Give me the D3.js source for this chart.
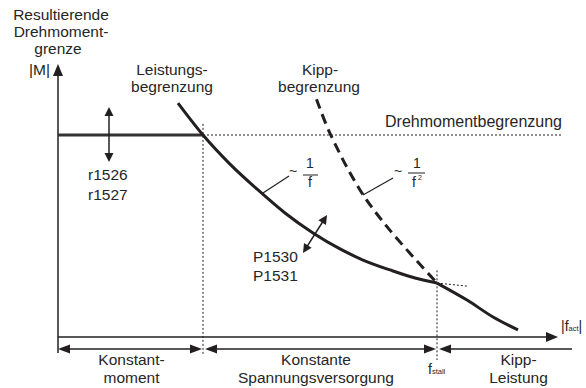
<!DOCTYPE html>
<html>
<head>
<meta charset="utf-8">
<script src="https://cdn.jsdelivr.net/npm/d3@7"></script>
<style>
  html, body { margin: 0; padding: 0; background: #fff; }
  svg text { font-family: "Liberation Sans", Arial, Helvetica, sans-serif; fill: #262626; }
</style>
</head>
<body>
<svg id="chart" width="586" height="388"></svg>
<script>
// Relative frequency f (0..100) and relative torque limit M (100 = torque limit)
const powerF = [24, 29, 34.4, 40, 45.4, 51, 56.4, 61, 66.4, 71.4, 75.8];   // power limit ~ 1/f
const powerM = [115.8, 100, 85.6, 72.8, 61.4, 51.5, 43.6, 38.1, 33.2, 29.2, 26.7];
const powerTailF = [75.8, 81.8];                          // power limit beyond stall point
const powerTailM = [26.7, 25.2];
const stallF = [51.7, 54.4, 60.4, 66, 75.8];              // stall limit ~ 1/f^2 (dashed part)
const stallM = [117.7, 100.8, 72.8, 54, 26.7];
const kippF = [75.8, 81.8, 87, 92];                       // stall limit, active part
const kippM = [26.7, 18.3, 9.9, 3.5];
const torqueLimit = 100;
const fCorner = 29;      // end of constant torque range
const fStall = 75.8;     // f_stall
const fEnd = 102.8;      // end of stall power range
const rangeLabels = [["Konstant-", "moment"], ["Konstante", "Spannungsversorgung"], ["Kipp-", "Leistung"]];

const svg = d3.select("#chart");
const ink = "#231f20";

const x = d3.scaleLinear().domain([0, 100]).range([58, 558]);
const y = d3.scaleLinear().domain([0, 100]).range([337, 135]);

const line = d3.line().x(d => x(d[0])).y(d => y(d[1])).curve(d3.curveMonotoneX);
const zip = (a, b) => a.map((v, i) => [v, b[i]]);

// filled triangular arrow head with its tip at (tx,ty), pointing away from (fx,fy)
function head(g, fx, fy, tx, ty, len, wid) {
  const dx = tx - fx, dy = ty - fy, n = Math.hypot(dx, dy);
  const ux = dx / n, uy = dy / n;
  const bx = tx - ux * len, by = ty - uy * len;
  const px = -uy * wid / 2, py = ux * wid / 2;
  g.append("path")
    .attr("d", `M${tx},${ty}L${bx + px},${by + py}L${bx - px},${by - py}Z`)
    .attr("fill", ink);
}
function arrow(g, x1, y1, x2, y2, opts) {
  const o = Object.assign({ w: 1.3, len: 9, wid: 8, start: false, end: true }, opts);
  const dx = x2 - x1, dy = y2 - y1, n = Math.hypot(dx, dy);
  const ux = dx / n, uy = dy / n;
  const sx = o.start ? x1 + ux * (o.len - 1) : x1, sy = o.start ? y1 + uy * (o.len - 1) : y1;
  const ex = o.end ? x2 - ux * (o.len - 1) : x2, ey = o.end ? y2 - uy * (o.len - 1) : y2;
  g.append("line").attr("x1", sx).attr("y1", sy).attr("x2", ex).attr("y2", ey)
    .attr("stroke", ink).attr("stroke-width", o.w);
  if (o.end) head(g, x1, y1, x2, y2, o.len, o.wid);
  if (o.start) head(g, x2, y2, x1, y1, o.len, o.wid);
}

const g = svg.append("g");

// axes
arrow(g, x(0), y(-7.9), x(0), 64, { w: 1.5, len: 12, wid: 10 });
arrow(g, x(0), y(0), x(100), y(0), { w: 1.5, len: 12, wid: 10 });

// dotted guides
const dotted = (x1, y1, x2, y2) => g.append("line")
  .attr("x1", x1).attr("y1", y1).attr("x2", x2).attr("y2", y2)
  .attr("stroke", ink).attr("stroke-width", 1).attr("stroke-dasharray", "2,2");
dotted(x(fCorner), y(torqueLimit), 563, y(torqueLimit));
dotted(x(fCorner), y(105.5), x(fCorner), y(-8.9));
dotted(x(fStall), y(33), x(fStall), y(-11.4));

// torque limit (solid in constant torque range)
g.append("line").attr("x1", x(0)).attr("y1", y(torqueLimit)).attr("x2", x(fCorner)).attr("y2", y(torqueLimit))
  .attr("stroke", "#333").attr("stroke-width", 3);

// power limit ~1/f
g.append("path").datum(zip(powerF, powerM)).attr("d", line)
  .attr("fill", "none").attr("stroke", ink).attr("stroke-width", 3);
g.append("path").datum(zip(powerTailF, powerTailM)).attr("d", line)
  .attr("fill", "none").attr("stroke", ink).attr("stroke-width", 1).attr("stroke-dasharray", "2,2");

// stall limit ~1/f^2
g.append("path").datum(zip(stallF, stallM)).attr("d", line.curve(d3.curveCatmullRom.alpha(0.5)))
  .attr("fill", "none").attr("stroke", ink).attr("stroke-width", 3).attr("stroke-dasharray", "10,6");
g.append("path").datum(zip(kippF, kippM)).attr("d", line)
  .attr("fill", "none").attr("stroke", ink).attr("stroke-width", 3);

// range arrows below the frequency axis
const yr = 349;
arrow(g, x(0), yr, x(fCorner) - 1, yr, { start: true, end: true, len: 12, wid: 9, w: 1.5 });
arrow(g, x(fCorner) + 2, yr, x(fStall) - 1, yr, { start: true, end: true, len: 12, wid: 9, w: 1.5 });
arrow(g, x(fStall) + 2, yr, x(fEnd), yr, { start: true, end: false, len: 12, wid: 9, w: 1.5 });

// adjustment arrows
arrow(g, x(10.2), y(113.9), x(10.2), y(86.6), { start: true, end: true, len: 9, wid: 9, w: 1.5 });
arrow(g, x(49), y(41.6), x(53.8), y(60.4), { start: true, end: true, len: 9, wid: 9, w: 1.5 });

// leader lines to the curve laws
const leader = (x1, y1, x2, y2) => g.append("line").attr("x1", x1).attr("y1", y1).attr("x2", x2).attr("y2", y2)
  .attr("stroke", ink).attr("stroke-width", 1.2);
leader(263, 193, 289, 176);
leader(363, 195, 393, 178);

// texts
const fs = 15.5;
const txt = (s, tx, ty, anchor, size) => g.append("text").attr("x", tx).attr("y", ty)
  .attr("text-anchor", anchor || "start").attr("font-size", size || fs).text(s);

txt("Resultierende", 61, 20, "middle");
txt("Drehmoment-", 61, 37, "middle");
txt("grenze", 58, 54, "middle");
txt("|M|", 29, 75);

txt("Leistungs-", 172, 75, "middle");
txt("begrenzung", 172, 92, "middle");
txt("Kipp-", 320, 75, "middle");
txt("begrenzung", 319, 92, "middle");
txt("Drehmomentbegrenzung", 562, 127, "end", 16);

txt("r1526", 88, 180);
txt("r1527", 88, 200);
txt("P1530", 253, 262);
txt("P1531", 253, 281);

// ~ 1/f
txt("~", 289, 176, "start", 14);
txt("1", 310, 168, "middle", 14);
g.append("line").attr("x1", 303).attr("x2", 318).attr("y1", 175).attr("y2", 175).attr("stroke", ink).attr("stroke-width", 1);
txt("f", 310, 187, "middle", 14);
// ~ 1/f^2
txt("~", 394, 176, "start", 14);
txt("1", 417, 168, "middle", 14);
g.append("line").attr("x1", 408).attr("x2", 425).attr("y1", 173).attr("y2", 173).attr("stroke", ink).attr("stroke-width", 1);
txt("f", 414, 187, "middle", 14);
txt("2", 418, 180, "start", 7);

// range labels
const centers = [(x(0) + x(fCorner)) / 2 + 1, (x(fCorner) + x(fStall)) / 2 - 4, (x(fStall) + x(fEnd)) / 2 + 14];
rangeLabels.forEach((ls, i) => {
  txt(ls[0], centers[i], 365, "middle");
  txt(ls[1], centers[i], 383, "middle");
});

// f_stall
const fsT = g.append("text").attr("x", x(fStall) - 9).attr("y", 374).attr("font-size", 14);
fsT.append("tspan").text("f");
fsT.append("tspan").attr("font-size", 7.5).text("stall");

// |f_act|
const fa = g.append("text").attr("x", 561).attr("y", 331).attr("font-size", 14);
fa.append("tspan").text("|f");
fa.append("tspan").attr("font-size", 7.5).text("act");
fa.append("tspan").text("|");
</script>
</body>
</html>
